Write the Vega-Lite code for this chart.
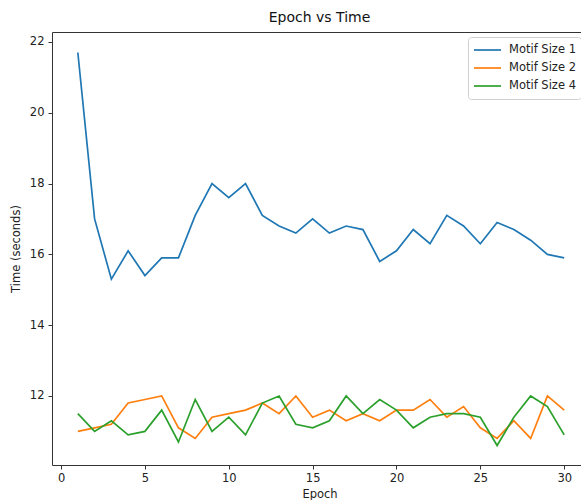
{
  "$schema": "https://vega.github.io/schema/vega-lite/v6.json",
  "autosize": "none",
  "padding": {"left": 52, "top": 32, "right": 0, "bottom": 35},
  "width": 535,
  "height": 433,
  "background": "white",
  "title": {"text": "Epoch vs Time", "fontSize": 14, "font": "DejaVu Sans", "fontWeight": "normal", "color": "#111", "offset": 7, "anchor": "middle"},
  "config": {
    "font": "DejaVu Sans",
    "view": {"stroke": "#333", "strokeWidth": 1},
    "axis": {
      "grid": false, "domain": false, "tickColor": "#333", "tickSize": 4, "tickWidth": 1,
      "labelFontSize": 11.5, "labelColor": "#222", "labelFont": "DejaVu Sans",
      "titleFontSize": 11.5, "titleFontWeight": "normal", "titleColor": "#222", "titleFont": "DejaVu Sans"
    }
  },
  "data": {"values": [
    {"epoch": 1, "series": "Motif Size 1", "time": 21.7},
    {"epoch": 2, "series": "Motif Size 1", "time": 17.0},
    {"epoch": 3, "series": "Motif Size 1", "time": 15.3},
    {"epoch": 4, "series": "Motif Size 1", "time": 16.1},
    {"epoch": 5, "series": "Motif Size 1", "time": 15.4},
    {"epoch": 6, "series": "Motif Size 1", "time": 15.9},
    {"epoch": 7, "series": "Motif Size 1", "time": 15.9},
    {"epoch": 8, "series": "Motif Size 1", "time": 17.1},
    {"epoch": 9, "series": "Motif Size 1", "time": 18.0},
    {"epoch": 10, "series": "Motif Size 1", "time": 17.6},
    {"epoch": 11, "series": "Motif Size 1", "time": 18.0},
    {"epoch": 12, "series": "Motif Size 1", "time": 17.1},
    {"epoch": 13, "series": "Motif Size 1", "time": 16.8},
    {"epoch": 14, "series": "Motif Size 1", "time": 16.6},
    {"epoch": 15, "series": "Motif Size 1", "time": 17.0},
    {"epoch": 16, "series": "Motif Size 1", "time": 16.6},
    {"epoch": 17, "series": "Motif Size 1", "time": 16.8},
    {"epoch": 18, "series": "Motif Size 1", "time": 16.7},
    {"epoch": 19, "series": "Motif Size 1", "time": 15.8},
    {"epoch": 20, "series": "Motif Size 1", "time": 16.1},
    {"epoch": 21, "series": "Motif Size 1", "time": 16.7},
    {"epoch": 22, "series": "Motif Size 1", "time": 16.3},
    {"epoch": 23, "series": "Motif Size 1", "time": 17.1},
    {"epoch": 24, "series": "Motif Size 1", "time": 16.8},
    {"epoch": 25, "series": "Motif Size 1", "time": 16.3},
    {"epoch": 26, "series": "Motif Size 1", "time": 16.9},
    {"epoch": 27, "series": "Motif Size 1", "time": 16.7},
    {"epoch": 28, "series": "Motif Size 1", "time": 16.4},
    {"epoch": 29, "series": "Motif Size 1", "time": 16.0},
    {"epoch": 30, "series": "Motif Size 1", "time": 15.9},
    {"epoch": 1, "series": "Motif Size 2", "time": 11.0},
    {"epoch": 2, "series": "Motif Size 2", "time": 11.1},
    {"epoch": 3, "series": "Motif Size 2", "time": 11.2},
    {"epoch": 4, "series": "Motif Size 2", "time": 11.8},
    {"epoch": 5, "series": "Motif Size 2", "time": 11.9},
    {"epoch": 6, "series": "Motif Size 2", "time": 12.0},
    {"epoch": 7, "series": "Motif Size 2", "time": 11.1},
    {"epoch": 8, "series": "Motif Size 2", "time": 10.8},
    {"epoch": 9, "series": "Motif Size 2", "time": 11.4},
    {"epoch": 10, "series": "Motif Size 2", "time": 11.5},
    {"epoch": 11, "series": "Motif Size 2", "time": 11.6},
    {"epoch": 12, "series": "Motif Size 2", "time": 11.8},
    {"epoch": 13, "series": "Motif Size 2", "time": 11.5},
    {"epoch": 14, "series": "Motif Size 2", "time": 12.0},
    {"epoch": 15, "series": "Motif Size 2", "time": 11.4},
    {"epoch": 16, "series": "Motif Size 2", "time": 11.6},
    {"epoch": 17, "series": "Motif Size 2", "time": 11.3},
    {"epoch": 18, "series": "Motif Size 2", "time": 11.5},
    {"epoch": 19, "series": "Motif Size 2", "time": 11.3},
    {"epoch": 20, "series": "Motif Size 2", "time": 11.6},
    {"epoch": 21, "series": "Motif Size 2", "time": 11.6},
    {"epoch": 22, "series": "Motif Size 2", "time": 11.9},
    {"epoch": 23, "series": "Motif Size 2", "time": 11.4},
    {"epoch": 24, "series": "Motif Size 2", "time": 11.7},
    {"epoch": 25, "series": "Motif Size 2", "time": 11.1},
    {"epoch": 26, "series": "Motif Size 2", "time": 10.8},
    {"epoch": 27, "series": "Motif Size 2", "time": 11.3},
    {"epoch": 28, "series": "Motif Size 2", "time": 10.8},
    {"epoch": 29, "series": "Motif Size 2", "time": 12.0},
    {"epoch": 30, "series": "Motif Size 2", "time": 11.6},
    {"epoch": 1, "series": "Motif Size 4", "time": 11.5},
    {"epoch": 2, "series": "Motif Size 4", "time": 11.0},
    {"epoch": 3, "series": "Motif Size 4", "time": 11.3},
    {"epoch": 4, "series": "Motif Size 4", "time": 10.9},
    {"epoch": 5, "series": "Motif Size 4", "time": 11.0},
    {"epoch": 6, "series": "Motif Size 4", "time": 11.6},
    {"epoch": 7, "series": "Motif Size 4", "time": 10.7},
    {"epoch": 8, "series": "Motif Size 4", "time": 11.9},
    {"epoch": 9, "series": "Motif Size 4", "time": 11.0},
    {"epoch": 10, "series": "Motif Size 4", "time": 11.4},
    {"epoch": 11, "series": "Motif Size 4", "time": 10.9},
    {"epoch": 12, "series": "Motif Size 4", "time": 11.8},
    {"epoch": 13, "series": "Motif Size 4", "time": 12.0},
    {"epoch": 14, "series": "Motif Size 4", "time": 11.2},
    {"epoch": 15, "series": "Motif Size 4", "time": 11.1},
    {"epoch": 16, "series": "Motif Size 4", "time": 11.3},
    {"epoch": 17, "series": "Motif Size 4", "time": 12.0},
    {"epoch": 18, "series": "Motif Size 4", "time": 11.5},
    {"epoch": 19, "series": "Motif Size 4", "time": 11.9},
    {"epoch": 20, "series": "Motif Size 4", "time": 11.6},
    {"epoch": 21, "series": "Motif Size 4", "time": 11.1},
    {"epoch": 22, "series": "Motif Size 4", "time": 11.4},
    {"epoch": 23, "series": "Motif Size 4", "time": 11.5},
    {"epoch": 24, "series": "Motif Size 4", "time": 11.5},
    {"epoch": 25, "series": "Motif Size 4", "time": 11.4},
    {"epoch": 26, "series": "Motif Size 4", "time": 10.6},
    {"epoch": 27, "series": "Motif Size 4", "time": 11.4},
    {"epoch": 28, "series": "Motif Size 4", "time": 12.0},
    {"epoch": 29, "series": "Motif Size 4", "time": 11.7},
    {"epoch": 30, "series": "Motif Size 4", "time": 10.9}
  ]},
  "mark": {"type": "line", "strokeWidth": 1.7, "clip": true},
  "encoding": {
    "x": {
      "field": "epoch", "type": "quantitative",
      "scale": {"domain": [-0.54, 31.36], "nice": false, "zero": false},
      "axis": {"values": [0, 5, 10, 15, 20, 25, 30], "title": "Epoch", "labelPadding": 3, "titlePadding": 5}
    },
    "y": {
      "field": "time", "type": "quantitative",
      "scale": {"domain": [10.05, 22.28], "nice": false, "zero": false},
      "axis": {"values": [12, 14, 16, 18, 20, 22], "title": "Time (seconds)", "labelPadding": 4, "titlePadding": 8}
    },
    "color": {
      "field": "series", "type": "nominal",
      "scale": {"domain": ["Motif Size 1", "Motif Size 2", "Motif Size 4"], "range": ["#1f77b4", "#ff7f0e", "#2ca02c"]},
      "legend": {
        "title": null, "orient": "none", "legendX": 416, "legendY": 5,
        "symbolType": "stroke", "symbolSize": 729, "symbolStrokeWidth": 1.7,
        "labelFontSize": 11.5, "labelColor": "#222", "labelFont": "DejaVu Sans", "labelOffset": 7,
        "clipHeight": 16, "rowPadding": 2,
        "padding": 5, "strokeColor": "#d0d0d0", "fillColor": "white", "cornerRadius": 3
      }
    }
  }
}
